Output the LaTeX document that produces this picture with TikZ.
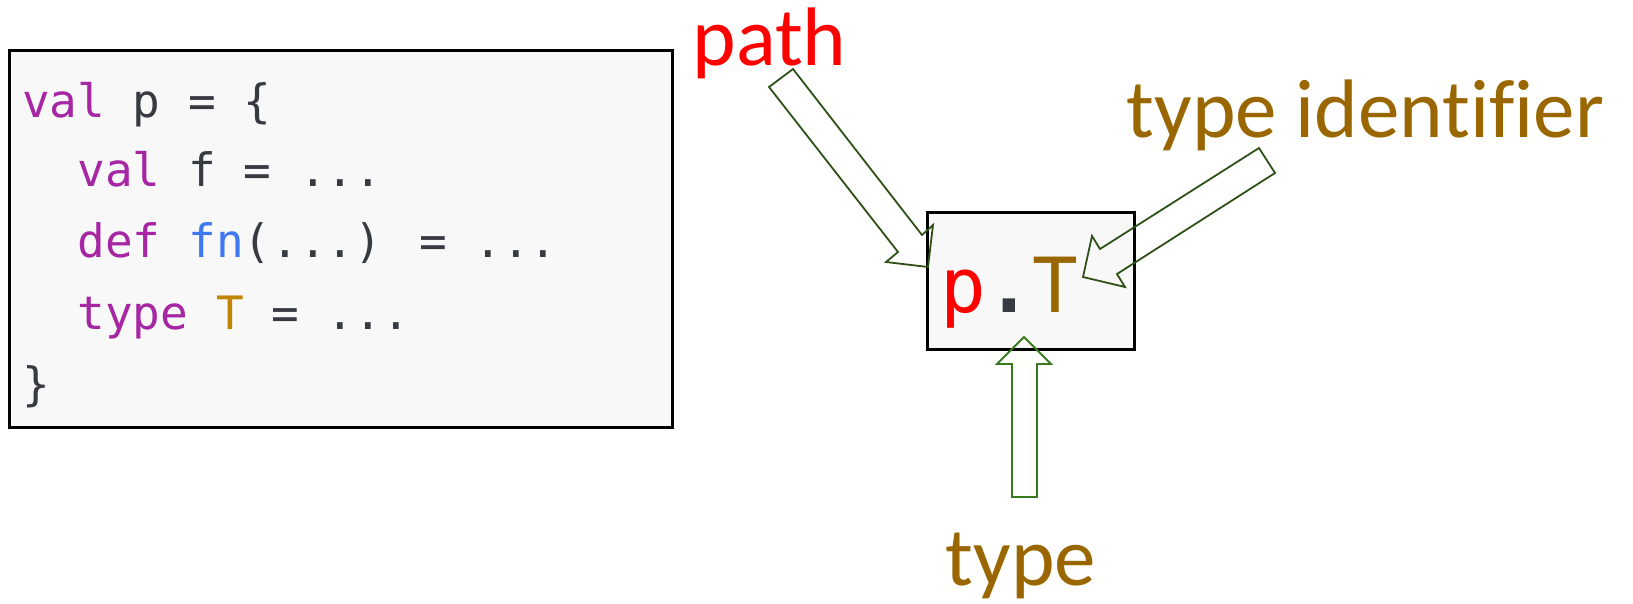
\documentclass[tikz,border=0pt]{standalone}
\usepackage{fontspec}
\newfontfamily\codefont{DejaVu Sans Mono}
\newfontfamily\lblfont[Ligatures={NoCommon}]{Carlito}
\definecolor{kw}{HTML}{A626A4}
\definecolor{plain}{HTML}{383A42}
\definecolor{fnc}{HTML}{4078F2}
\definecolor{tyc}{HTML}{C18401}
\definecolor{brn}{HTML}{996600}
\definecolor{boxbg}{HTML}{F8F8F8}
\definecolor{dkgreen}{HTML}{2F5118}
\definecolor{ltgreen}{HTML}{3A7A1E}
\begin{document}
\begin{tikzpicture}[x=1pt,y=-1pt,
  codeline/.style={anchor=base west, inner sep=0pt, text=plain, font=\codefont\fontsize{46}{46}\selectfont},
  lbl/.style={anchor=base, inner sep=0pt, font=\lblfont\fontsize{83}{83}\selectfont},
  barrow/.style={line width=1.8pt, line join=miter}]
\useasboundingbox (0,0) rectangle (1633,603);
% code box
\node (codebox) [draw=black, line width=3pt, fill=boxbg, anchor=north west,
  minimum width=663pt, minimum height=377pt, inner sep=0pt] at (7.5,48.5) {};
\node (l1) [codeline] at (22,117) {\textcolor{kw}{val} p = \{};
\node (l2) [codeline] at (22,186) {\phantom{vv}\textcolor{kw}{val} f = ...};
\node (l3) [codeline] at (22,257) {\phantom{vv}\textcolor{kw}{def} \textcolor{fnc}{fn}(...) = ...};
\node (l4) [codeline] at (22,329) {\phantom{vv}\textcolor{kw}{type} \textcolor{tyc}{T} = ...};
\node (l5) [codeline] at (22,400) {\}};
% p.T box
\node (ptbox) [draw=black, line width=3.5pt, fill=boxbg, anchor=north west,
  minimum width=207pt, minimum height=137pt, inner sep=0pt] at (925.5,210.5) {};
\node (pt) [anchor=base, inner sep=0pt, font=\codefont\fontsize{76}{76}\selectfont]
  at (1009.5,312) {\textcolor{red}{p}\textcolor{plain}{\bfseries .}\textcolor{brn}{T}};
% labels
\node (lpath) [lbl, text=red] at (769.5,65) {path};
\node (ltid) [lbl, text=brn] at (1365.5,137) {type identifier};
\node (ltype) [lbl, text=brn] at (1021,585) {type};
% block arrows
\draw[barrow, draw=dkgreen] (769,87) -- (793,69) -- (922,235) -- (933,225) -- (928,267) -- (886,262) -- (898,252) -- cycle;
\draw[barrow, draw=dkgreen] (1259,148) -- (1100,249) -- (1092,236) -- (1083,277) -- (1125,287) -- (1117,274) -- (1275,173) -- cycle;
\draw[barrow, draw=ltgreen] (1012,497) -- (1012,364) -- (997,364) -- (1024,337) -- (1051,364) -- (1037,364) -- (1037,497) -- cycle;
\end{tikzpicture}
\end{document}
